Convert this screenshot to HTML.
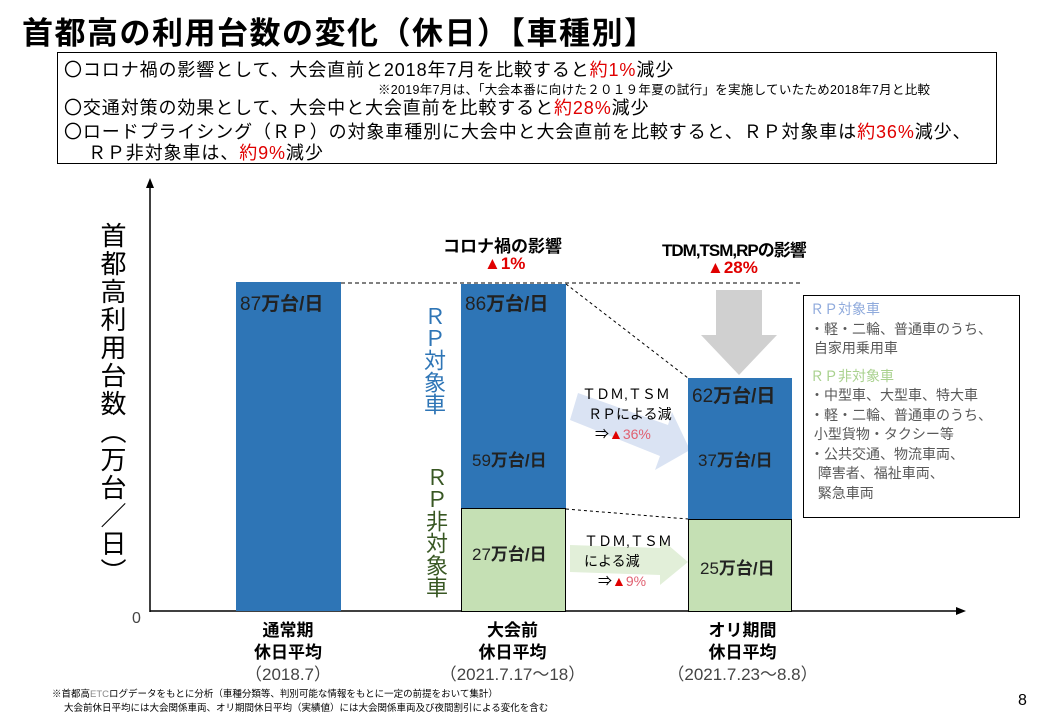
<!DOCTYPE html>
<html><head><meta charset="utf-8"><style>
body{margin:0;width:1040px;height:720px;background:#fff;position:relative;overflow:hidden;font-family:"Liberation Sans","Noto Sans CJK JP",sans-serif;color:#000}
.a{position:absolute;white-space:nowrap}
.r{color:#e00000}
.bar{position:absolute;box-sizing:border-box}
.v{position:absolute;writing-mode:vertical-rl;text-orientation:upright}
.lbl{position:absolute;font-size:17px;text-align:center}
.c{font-family:"Noto Sans CJK JP",sans-serif}
.t{font-size:18px;letter-spacing:0.9px}
</style></head><body>
<div class="a" style="left:22px;top:8px;font-size:31px;font-weight:bold;letter-spacing:1.5px">首都高の利用台数の変化（休日）【車種別】</div>
<div class="a" style="left:57px;top:52px;width:940px;height:112px;border:1px solid #000;box-sizing:border-box"></div>
<div class="a t" style="left:64px;top:56px"><span class="c">〇</span>コロナ禍の影響として、大会直前と2018年7月を比較すると<span class="r">約1%</span>減少</div>
<div class="a" style="left:378px;top:79px;font-size:12.5px;letter-spacing:0.3px">※2019年7月は、「大会本番に向けた２０１９年夏の試行」を実施していたため2018年7月と比較</div>
<div class="a t" style="left:64px;top:94px"><span class="c">〇</span>交通対策の効果として、大会中と大会直前を比較すると<span class="r">約28%</span>減少</div>
<div class="a t" style="left:64px;top:118px"><span class="c">〇</span>ロードプライシング（ＲＰ）の対象車種別に大会中と大会直前を比較すると、ＲＰ対象車は<span class="r">約36%</span>減少、</div>
<div class="a t" style="left:88px;top:139px">ＲＰ非対象車は、<span class="r">約9%</span>減少</div>

<svg class="a" style="left:0;top:0" width="1040" height="720">
<line x1="150" y1="612" x2="150" y2="186" stroke="#000" stroke-width="1.5"/>
<polygon points="150,178 146,188 154,188" fill="#000"/>
<line x1="150" y1="611" x2="958" y2="611" stroke="#000" stroke-width="1.5"/>
<polygon points="966,611 956,607 956,615" fill="#000"/>
<line x1="236" y1="283" x2="803" y2="283" stroke="#000" stroke-dasharray="4,3"/>
<line x1="566" y1="284" x2="688" y2="378" stroke="#000" stroke-dasharray="3,3"/>
<line x1="566" y1="509" x2="688" y2="519" stroke="#000" stroke-dasharray="3,3"/>
<polygon points="716,290 762,290 762,335 777,335 739,375 701,335 716,335" fill="#d0d0d0"/>
<polygon points="578,393 668,425 672,412 690,450 655,470 660,456 570,420" fill="#dae3f3"/>
<polygon points="570,545 660,548 660,538 688,562 660,585 660,575 570,572" fill="#e2efd9"/>
</svg>

<div class="bar" style="left:236px;top:282px;width:105px;height:329px;background:#2e75b6"></div>
<div class="bar" style="left:461px;top:284px;width:105px;height:225px;background:#2e75b6"></div>
<div class="bar" style="left:461px;top:508px;width:105px;height:104px;background:#c5e0b4;border:1px solid #000"></div>
<div class="bar" style="left:688px;top:378px;width:104px;height:142px;background:#2e75b6"></div>
<div class="bar" style="left:688px;top:519px;width:104px;height:93px;background:#c5e0b4;border:1px solid #000"></div>

<div class="a" style="left:240px;top:289px;font-size:19px;color:#222">87<b>万台/日</b></div>
<div class="a" style="left:465px;top:289px;font-size:19px;color:#222">86<b>万台/日</b></div>
<div class="a" style="left:472px;top:446px;font-size:17px;color:#222">59<b>万台/日</b></div>
<div class="a" style="left:472px;top:540px;font-size:17px;color:#222">27<b>万台/日</b></div>
<div class="a" style="left:692px;top:381px;font-size:19px;color:#222">62<b>万台/日</b></div>
<div class="a" style="left:698px;top:446px;font-size:17px;color:#222">37<b>万台/日</b></div>
<div class="a" style="left:700px;top:554px;font-size:17px;color:#222">25<b>万台/日</b></div>

<div class="a" style="left:443px;top:232px;font-size:17px;font-weight:bold">コロナ禍の影響</div>
<div class="a r" style="left:484px;top:254px;font-size:17px;font-weight:bold">▲1%</div>
<div class="a" style="left:662px;top:236px;font-size:17px;font-weight:bold;letter-spacing:-1px">TDM,TSM,RPの影響</div>
<div class="a r" style="left:707px;top:258px;font-size:17px;font-weight:bold">▲28%</div>

<div class="a" style="left:582px;top:384px;font-size:14px">ＴＤＭ,ＴＳＭ</div>
<div class="a" style="left:588px;top:404px;font-size:14px">ＲＰによる減</div>
<div class="a" style="left:595px;top:424px;font-size:14px">⇒<span class="r">▲</span><span style="color:#e06070">36%</span></div>
<div class="a" style="left:584px;top:531px;font-size:14px">ＴＤＭ,ＴＳＭ</div>
<div class="a" style="left:584px;top:551px;font-size:14px">による減</div>
<div class="a" style="left:598px;top:571px;font-size:14px">⇒<span class="r">▲</span><span style="color:#e06070">9%</span></div>

<div class="v" style="left:418px;top:305px;font-size:22px;color:#2e75b6;line-height:30px">ＲＰ対象車</div>
<div class="v" style="left:420px;top:466px;font-size:22px;color:#385723;line-height:30px">ＲＰ非対象車</div>
<div class="v" style="left:96px;top:222px;font-size:26px;line-height:32px;letter-spacing:2px">首都高利用台数（万台／日）</div>

<div class="a" style="left:803px;top:295px;width:217px;height:223px;border:1px solid #000;box-sizing:border-box;font-size:14px;color:#595959;line-height:19.5px;padding:4px 0 0 6px">
<div style="color:#8faadc">ＲＰ対象車</div>
<div>・軽・二輪、普通車のうち、</div>
<div>&nbsp;自家用乗用車</div>
<div style="height:8px"></div>
<div style="color:#a9d18e">ＲＰ非対象車</div>
<div>・中型車、大型車、特大車</div>
<div>・軽・二輪、普通車のうち、</div>
<div>&nbsp;小型貨物・タクシー等</div>
<div>・公共交通、物流車両、</div>
<div>&nbsp;&nbsp;障害者、福祉車両、</div>
<div>&nbsp;&nbsp;緊急車両</div>
</div>

<div class="a" style="left:132px;top:610px;font-size:16px;color:#444">0</div>
<div class="lbl" style="left:208px;top:620px;width:160px;line-height:22px;font-weight:bold">通常期<br>休日平均<br><span style="font-weight:normal;color:#444">（2018.7）</span></div>
<div class="lbl" style="left:420px;top:620px;width:185px;line-height:22px;font-weight:bold">大会前<br>休日平均<br><span style="font-weight:normal;color:#444">（2021.7.17～18）</span></div>
<div class="lbl" style="left:650px;top:620px;width:185px;line-height:22px;font-weight:bold">オリ期間<br>休日平均<br><span style="font-weight:normal;color:#444">（2021.7.23～8.8）</span></div>
<div class="a" style="left:52px;top:686px;font-size:9.5px">※首都高<span style="color:#888">ETC</span>ログデータをもとに分析（車種分類等、判別可能な情報をもとに一定の前提をおいて集計）</div>
<div class="a" style="left:64px;top:700px;font-size:9.5px">大会前休日平均には大会関係車両、オリ期間休日平均（実績値）には大会関係車両及び夜間割引による変化を含む</div>
<div class="a" style="left:1018px;top:692px;font-size:16px">8</div>
</body></html>
